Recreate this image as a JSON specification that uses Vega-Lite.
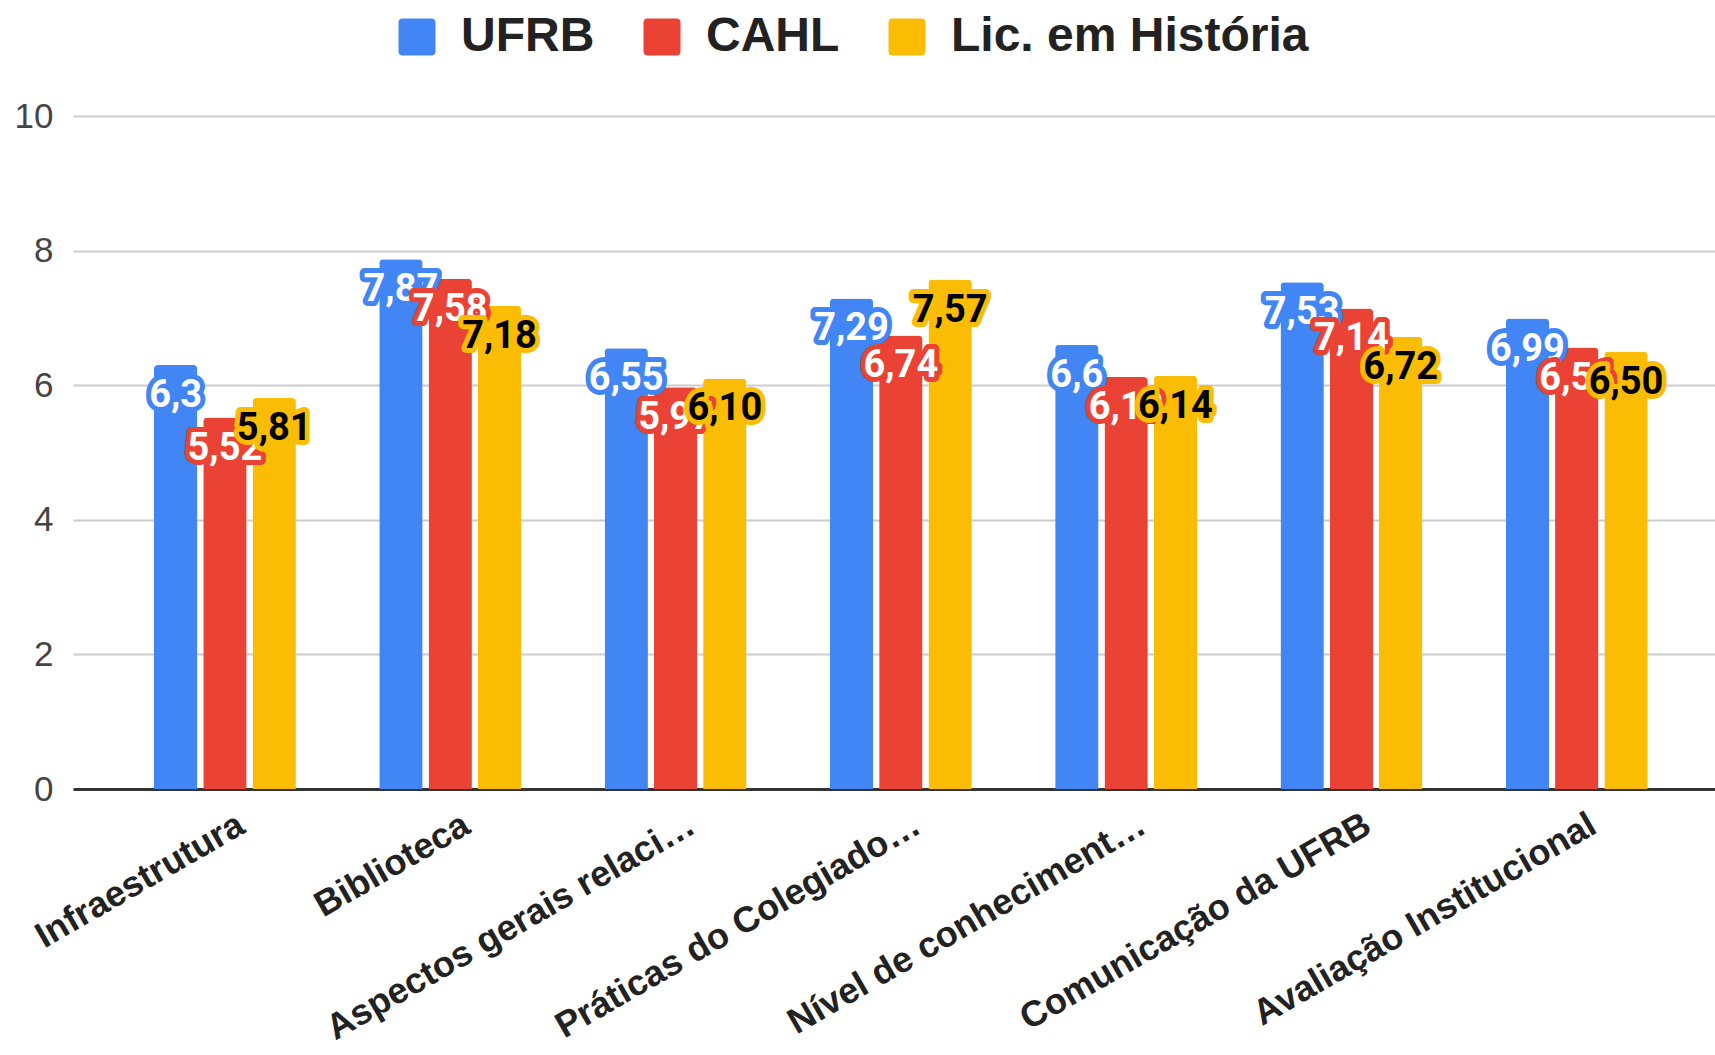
{
  "$schema": "https://vega.github.io/schema/vega-lite/v6.json",
  "width": 1642,
  "height": 673,
  "autosize": {"type": "none"},
  "padding": {"left": 73, "top": 116, "right": 0, "bottom": 266},
  "background": "white",
  "config": {"view": {"stroke": null}, "font": "Liberation Sans"},
  "data": {
    "values": [
      {"category": "Infraestrutura", "series": "UFRB", "value": 6.3, "label": "6,3"},
      {"category": "Infraestrutura", "series": "CAHL", "value": 5.52, "label": "5,52"},
      {"category": "Infraestrutura", "series": "Lic. em História", "value": 5.81, "label": "5,81"},
      {"category": "Biblioteca", "series": "UFRB", "value": 7.87, "label": "7,87"},
      {"category": "Biblioteca", "series": "CAHL", "value": 7.58, "label": "7,58"},
      {"category": "Biblioteca", "series": "Lic. em História", "value": 7.18, "label": "7,18"},
      {"category": "Aspectos gerais relaci…", "series": "UFRB", "value": 6.55, "label": "6,55"},
      {"category": "Aspectos gerais relaci…", "series": "CAHL", "value": 5.97, "label": "5,97"},
      {"category": "Aspectos gerais relaci…", "series": "Lic. em História", "value": 6.1, "label": "6,10"},
      {"category": "Práticas do Colegiado…", "series": "UFRB", "value": 7.29, "label": "7,29"},
      {"category": "Práticas do Colegiado…", "series": "CAHL", "value": 6.74, "label": "6,74"},
      {"category": "Práticas do Colegiado…", "series": "Lic. em História", "value": 7.57, "label": "7,57"},
      {"category": "Nível de conheciment…", "series": "UFRB", "value": 6.6, "label": "6,6"},
      {"category": "Nível de conheciment…", "series": "CAHL", "value": 6.12, "label": "6,12"},
      {"category": "Nível de conheciment…", "series": "Lic. em História", "value": 6.14, "label": "6,14"},
      {"category": "Comunicação da UFRB", "series": "UFRB", "value": 7.53, "label": "7,53"},
      {"category": "Comunicação da UFRB", "series": "CAHL", "value": 7.14, "label": "7,14"},
      {"category": "Comunicação da UFRB", "series": "Lic. em História", "value": 6.72, "label": "6,72"},
      {"category": "Avaliação Institucional", "series": "UFRB", "value": 6.99, "label": "6,99"},
      {"category": "Avaliação Institucional", "series": "CAHL", "value": 6.56, "label": "6,56"},
      {"category": "Avaliação Institucional", "series": "Lic. em História", "value": 6.5, "label": "6,50"}
    ]
  },
  "encoding": {
    "x": {
      "field": "category",
      "type": "nominal",
      "sort": null,
      "scale": {"paddingInner": 0.37, "paddingOuter": 0.329, "align": 0.546},
      "axis": {
        "title": null,
        "labelAngle": -30,
        "labelAlign": "right",
        "labelBaseline": "top",
        "labelFont": "Liberation Sans",
        "labelFontSize": 36,
        "labelFontWeight": "bold",
        "labelColor": "#222222",
        "labelLimit": 1000,
        "labelPadding": 18,
        "labelOffset": 8,
        "ticks": false,
        "domainColor": "#333333",
        "domainWidth": 3,
        "grid": false
      }
    },
    "xOffset": {
      "field": "series",
      "type": "nominal",
      "sort": ["UFRB", "CAHL", "Lic. em História"],
      "scale": {"paddingInner": 0.12}
    },
    "y": {
      "field": "value",
      "type": "quantitative",
      "scale": {"domain": [0, 10], "nice": false},
      "axis": {
        "title": null,
        "values": [0, 2, 4, 6, 8, 10],
        "domain": false,
        "ticks": false,
        "grid": true,
        "gridColor": "#cccccc",
        "gridWidth": 2,
        "labelFont": "Liberation Sans",
        "labelFontSize": 35,
        "labelColor": "#444444",
        "labelPadding": 20
      }
    }
  },
  "layer": [
    {
      "mark": {"type": "bar", "cornerRadiusTopLeft": 4, "cornerRadiusTopRight": 4},
      "encoding": {
        "color": {
          "field": "series",
          "type": "nominal",
          "sort": ["UFRB", "CAHL", "Lic. em História"],
          "scale": {"domain": ["UFRB", "CAHL", "Lic. em História"], "range": ["#4285F4", "#EA4335", "#FBBC04"]},
          "legend": {
            "orient": "none",
            "legendX": 320,
            "legendY": -103,
            "direction": "horizontal",
            "title": null,
            "padding": 0,
            "symbolType": "M -0.8,-1 H 0.8 A 0.2,0.2 0 0 1 1,-0.8 V 0.8 A 0.2,0.2 0 0 1 0.8,1 H -0.8 A 0.2,0.2 0 0 1 -1,0.8 V -0.8 A 0.2,0.2 0 0 1 -0.8,-1 Z",
            "symbolSize": 1369,
            "symbolStrokeWidth": 0,
            "symbolOpacity": 1,
            "labelFont": "Liberation Sans",
            "labelFontSize": 48,
            "labelFontWeight": "bold",
            "labelColor": "#222222",
            "labelOffset": 20,
            "columnPadding": 43,
            "labelLimit": 1000
          }
        }
      }
    },
    {
      "transform": [{"filter": "datum.series === 'UFRB'"}],
      "mark": {"type": "text", "dy": 31, "baseline": "middle", "align": "center", "font": "Roboto", "fontSize": 38, "fontWeight": "bold", "fill": "#4285F4", "stroke": "#4285F4", "strokeWidth": 10, "strokeJoin": "round"},
      "encoding": {"text": {"field": "label"}}
    },
    {
      "transform": [{"filter": "datum.series === 'UFRB'"}],
      "mark": {"type": "text", "dy": 31, "baseline": "middle", "align": "center", "font": "Roboto", "fontSize": 38, "fontWeight": "bold", "fill": "#ffffff"},
      "encoding": {"text": {"field": "label"}}
    },
    {
      "transform": [{"filter": "datum.series === 'CAHL'"}],
      "mark": {"type": "text", "dy": 31, "baseline": "middle", "align": "center", "font": "Roboto", "fontSize": 38, "fontWeight": "bold", "fill": "#EA4335", "stroke": "#EA4335", "strokeWidth": 10, "strokeJoin": "round"},
      "encoding": {"text": {"field": "label"}}
    },
    {
      "transform": [{"filter": "datum.series === 'CAHL'"}],
      "mark": {"type": "text", "dy": 31, "baseline": "middle", "align": "center", "font": "Roboto", "fontSize": 38, "fontWeight": "bold", "fill": "#ffffff"},
      "encoding": {"text": {"field": "label"}}
    },
    {
      "transform": [{"filter": "datum.series === 'Lic. em História'"}],
      "mark": {"type": "text", "dy": 31, "baseline": "middle", "align": "center", "font": "Roboto", "fontSize": 38, "fontWeight": "bold", "fill": "#FBBC04", "stroke": "#FBBC04", "strokeWidth": 10, "strokeJoin": "round"},
      "encoding": {"text": {"field": "label"}}
    },
    {
      "transform": [{"filter": "datum.series === 'Lic. em História'"}],
      "mark": {"type": "text", "dy": 31, "baseline": "middle", "align": "center", "font": "Roboto", "fontSize": 38, "fontWeight": "bold", "fill": "#000000"},
      "encoding": {"text": {"field": "label"}}
    }
  ]
}
